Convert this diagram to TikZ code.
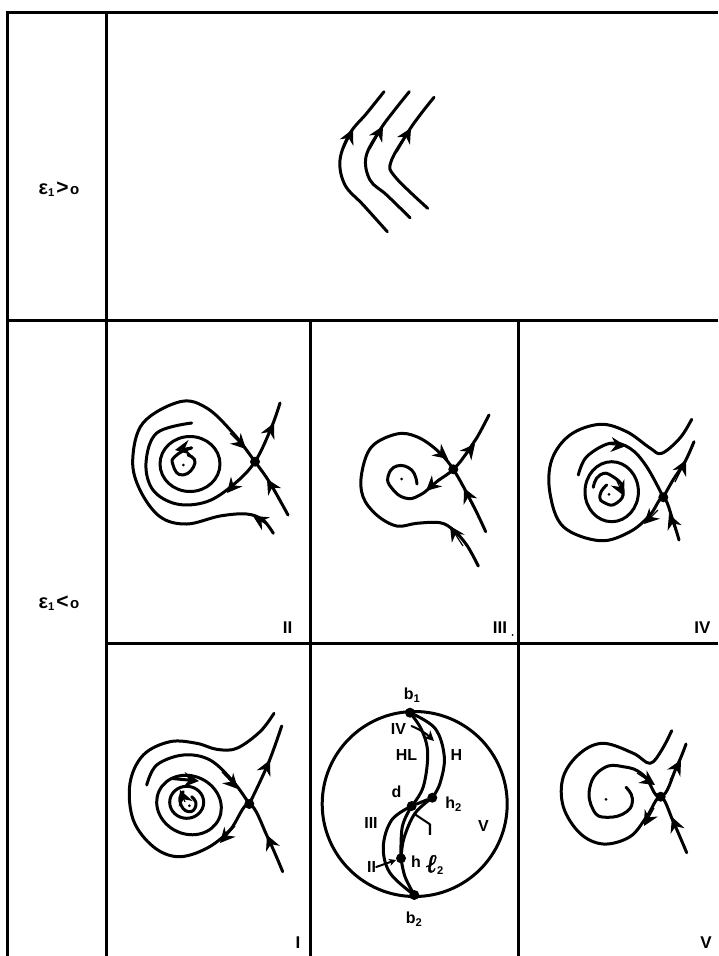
\documentclass[tikz,border=0pt]{standalone}
\usepackage{fontspec}
\setmainfont{Liberation Sans}
\newfontfamily\ellfont[FakeBold=1.5]{Liberation Serif}
\usetikzlibrary{arrows.meta}
\newcommand{\epslabel}[1]{{\fontsize{20}{20}\selectfont ε}$_{\mathbf{1}}$\kern1.5pt{\fontsize{21}{21}\selectfont #1}\kern1.5pt{\fontsize{15}{15}\selectfont o}}
\tikzset{
    rule/.style={line width=3pt},
    orbit/.style={line width=3pt, line cap=round, line join=round},
    flowtip/.style={line width=1.2pt, -{Stealth[length=15pt, width=15pt, inset=5pt]}},
    leader/.style={line width=2pt, line cap=round},
    saddle/.style={circle, fill=black, inner sep=0pt, minimum size=10pt},
    spot/.style={circle, fill=black, inner sep=0pt, minimum size=3pt},
    branch/.style={circle, fill=black, inner sep=0pt, minimum size=10pt},
    tag/.style={font=\bfseries\fontsize{17}{19}\selectfont, inner sep=0pt},
    smalltag/.style={font=\bfseries\fontsize{16}{18}\selectfont, inner sep=0pt}
}
\begin{document}
\begin{tikzpicture}[x=1pt, y=-1pt]
    \useasboundingbox (0,0) rectangle (718,956);

    % --- TABLE RULES ---
    \draw[rule] (718,12) -- (7,12) -- (7,956);
    \draw[rule] (106,12) -- (106,956);
    \draw[rule] (7,320) -- (718,320);
    \draw[rule] (106,643) -- (718,643);
    \draw[rule] (310,320) -- (310,956);
    \draw[rule] (518.5,320) -- (518.5,956);

    \node[smalltag] (epspos) at (59,189) {\epslabel{>}};
    \node[smalltag] (epsneg) at (59,603) {\epslabel{<}};

    % --- TOP PANEL ---
    \begin{scope}
        \draw[orbit] plot[smooth, tension=0.6] coordinates {(384,91.7) (366.7,113.3) (350,133.3) (340,160) (345,185) (363.3,205) (387.3,231.7)};
        \draw[orbit] plot[smooth, tension=0.6] coordinates {(409.3,91.7) (393.3,111.7) (380,130) (366,156.7) (370,180) (386.7,195) (410,217.7)};
        \draw[orbit] plot[smooth, tension=0.6] coordinates {(434,97.3) (420,115) (408.3,131.7) (391,161.7) (395,176.7) (427.7,208.3)};
        \draw[flowtip] (342,152) -- (353,129);
        \draw[flowtip] (370,149) -- (383,126);
        \draw[flowtip] (397,152) -- (411,128);
    \end{scope}

    % --- PANEL II ---
    \begin{scope}
        \node[saddle] (sadII) at (255,461.7) {};
        \node[spot] (focII) at (183.3,465) {};
        \draw[orbit] plot[smooth, tension=0.6] coordinates {(273.3,533.3) (263,520) (246.7,514) (220,516) (186.7,524) (160,516.7) (140,490) (132.7,460) (143,423) (180,401.7) (206.7,408) (233,433) (sadII) (270,483) (288,515)};
        \draw[orbit] plot[smooth, tension=0.6] coordinates {(280,403) (271.7,426.7) (sadII) (233,485) (206.7,501.7) (176.7,504) (153,490) (146,463) (156.7,433) (191.7,423)};
        \draw[orbit] (190,464) ellipse (30 and 27.5);
        \draw[orbit] plot[smooth, tension=1] coordinates {(191.7,448) (176.7,455) (173,465) (183,475) (195,463) (188,455)};
        \draw[flowtip] (230,433) -- (246,449);
        \draw[flowtip] (263,446) -- (274,423);
        \draw[flowtip] (238,480) -- (227,493);
        \draw[flowtip] (280,501) -- (267,479);
        \draw[flowtip] (268,525) -- (253,516);
        \draw[flowtip] (192,447) -- (175,450);
        \node[tag] (labII) at (287.5,628) {II};
    \end{scope}

    % --- PANEL III ---
    \begin{scope}
        \node[saddle] (sadIII) at (453.3,469.3) {};
        \node[spot] (focIII) at (401.7,479) {};
        \draw[orbit] plot[smooth, tension=0.6] coordinates {(478.3,566) (466.7,545) (453.3,530) (440,522.7) (416.7,523.3) (396.7,526) (376.7,515) (363,496.7) (361.7,473.3) (371.7,446.7) (396.7,434) (416.7,436.7) (436.7,450) (sadIII) (473,505) (485.7,531.7)};
        \draw[orbit] plot[smooth, tension=0.8] coordinates {(489,415) (476.7,438) (466.7,453) (sadIII) (436.7,481.7) (420,495) (405,498) (391.7,488) (388,476.7) (396.7,466) (411.7,470) (417,484)};
        \draw[flowtip] (433,447) -- (448,459);
        \draw[flowtip] (461,461) -- (475,444);
        \draw[flowtip] (439,479) -- (426,491);
        \draw[flowtip] (473,507) -- (464,488);
        \draw[flowtip] (463,546) -- (450,526);
        \node[tag] (labIII) at (500,628) {III};
        \node[spot, minimum size=2pt] (labdot) at (512.7,635) {};
    \end{scope}

    % --- PANEL IV ---
    \begin{scope}
        \node[saddle] (sadIV) at (663.3,497.3) {};
        \node[spot] (focIV) at (609,494.3) {};
        \draw[orbit] plot[smooth, tension=0.6] coordinates {(691.7,419.3) (680,438) (661.7,453.3) (650,448) (626.7,431.7) (600,424.3) (570,435) (551.7,460) (550,493.3) (563.3,526.7) (600,540.7) (630,531.7) (650,515) (sadIV) (673.3,521.7) (679,540)};
        \draw[orbit] plot[smooth, tension=0.6] coordinates {(694,441.7) (685,461.7) (673,480) (sadIV)};
        \draw[orbit] plot[smooth, tension=0.6] coordinates {(578.3,475) (586.7,456.7) (610,443.3) (630,448.3) (646.7,466.7) (sadIV)};
        \draw[orbit] (611.7,491.7) ellipse (26.7 and 30);
        \draw[orbit] plot[smooth, tension=1] coordinates {(593.3,487.3) (600,475) (613,476.7) (623,490) (616.7,503) (605,503) (600,495) (606.7,485)};
        \draw[flowtip] (606,444) -- (626,446);
        \draw[flowtip] (675,482) -- (686,460);
        \draw[flowtip] (658,510) -- (644,524);
        \draw[flowtip] (677,534) -- (669,514);
        \draw[flowtip] (616,479) -- (624,496);
        \node[tag] (labIV) at (702.5,628) {IV};
    \end{scope}

    % --- PANEL I ---
    \begin{scope}
        \node[saddle] (sadI) at (249.3,804) {};
        \node[spot] (focI) at (189.3,805.7) {};
        \draw[orbit] plot[smooth, tension=0.6] coordinates {(274,713.3) (260,731.7) (236.7,748.3) (216.7,749.3) (196.7,743.3) (170,741.7) (143.3,755) (130,783.3) (133.3,820) (153.3,846.7) (178.3,856.7) (206.7,848.3) (230,830) (sadI) (268,838) (282.7,871.7)};
        \draw[orbit] plot[smooth, tension=0.6] coordinates {(281.7,726) (268.3,763.3) (sadI)};
        \draw[orbit] plot[smooth, tension=0.6] coordinates {(146.7,785) (156.7,765) (183.3,755) (210,760) (233.3,781.7) (sadI)};
        \draw[orbit] (189,805) ellipse [x radius=33, y radius=29, rotate=-25];
        \draw[orbit] (186.7,802.3) ellipse (17 and 16);
        \draw[orbit] plot[smooth, tension=1] coordinates {(183.3,791.7) (180,801.7) (188.3,811.7) (196,805) (191.7,796.7)};
        \draw[flowtip, line width=3pt] (172,778.5) -- (199,781);
        \draw[flowtip] (222,772) -- (238,789);
        \draw[flowtip] (260,781) -- (270,760);
        \draw[flowtip] (235,826) -- (220,843);
        \draw[flowtip] (276,856) -- (267,835);
        \draw[flowtip] (185,802) -- (180,790);
        \node[tag] (labI) at (298,943) {I};
    \end{scope}

    % --- MIDDLE PANEL: DISC ---
    \begin{scope}
        \node[branch] (bone) at (410,712.7) {};
        \node[branch] (btwo) at (414.3,895) {};
        \node[branch] (dpt) at (411.7,806) {};
        \node[branch] (htwo) at (432.3,797.7) {};
        \node[branch] (hpt) at (401,858.3) {};
        \draw[orbit] (414.7,804) circle (92.5);
        \draw[orbit] plot[smooth, tension=0.6] coordinates {(bone) (435,728.3) (444.3,756.7) (440,783.3) (htwo)};
        \draw[orbit] plot[smooth, tension=0.6] coordinates {(bone) (421.7,730) (427.7,753.3) (423.3,786.7) (dpt)};
        \draw[orbit] (dpt) -- (htwo);
        \draw[orbit] plot[smooth, tension=0.6] coordinates {(htwo) (415,813.3) (404,838) (hpt)};
        \draw[orbit] plot[smooth, tension=0.6] coordinates {(dpt) (402.3,826.7) (hpt)};
        \draw[orbit] plot[smooth, tension=0.6] coordinates {(dpt) (391.7,820) (383.3,846.7) (390,873) (btwo)};
        \draw[orbit] plot[smooth, tension=0.6] coordinates {(hpt) (405,876.7) (btwo)};

        \node[smalltag] (lbone) at (412,695) {b$_{\mathbf{1}}$};
        \node[smalltag] (lbtwo) at (414,919) {b$_{\mathbf{2}}$};
        \node[smalltag] (lIV) at (398.5,729) {IV};
        \node[smalltag] (lHL) at (406.5,755) {HL};
        \node[smalltag] (lH) at (456.5,755) {H};
        \node[smalltag] (ld) at (396.5,791.5) {d};
        \node[smalltag] (lhtwo) at (453.5,804) {h$_{\mathbf{2}}$};
        \node[smalltag] (lIII) at (371,822.5) {III};
        \node[smalltag] (lI) at (430,830) {I};
        \node[smalltag] (lV) at (483.5,826) {V};
        \node[smalltag] (lII) at (371.5,867) {II};
        \node[smalltag] (lh) at (416,862) {h};
        \node[smalltag] (lelltwo) at (435,865) {{\ellfont\itshape\fontsize{26}{26}\selectfont ℓ}$_{\mathbf{2}}$};

        \draw[leader, -{Stealth[length=10pt, width=10pt, inset=3pt]}] (411.5,726) to[bend left=10] (434,741);
        \draw[leader] (lI.north) -- (414.5,814);
        \draw[leader, -{Stealth[length=7pt, width=7pt, inset=2pt]}] (lII.east) -- (hpt);
    \end{scope}

    % --- PANEL V ---
    \begin{scope}
        \node[saddle] (sadV) at (660.7,796.7) {};
        \node[spot] (focV) at (606,799.3) {};
        \draw[orbit] plot[smooth, tension=0.6] coordinates {(671.7,730.7) (661.7,750) (650,763.3) (633.3,753.3) (603.3,743.3) (580,753.3) (563.3,776.7) (563.3,806.7) (580,833.3) (603.3,844) (630,836.7) (646.7,816.7) (sadV) (673.3,821.7) (686.7,852.7)};
        \draw[orbit] plot[smooth, tension=0.8] coordinates {(686,744) (676.7,766.7) (sadV) (643.3,775) (623.3,766.7) (603.3,768.3) (590,786.7) (593.3,810) (606.7,817.3) (626.7,811.7) (632.3,798.3) (626,787.3)};
        \draw[flowtip] (637,773) -- (655,785);
        \draw[flowtip] (670,780) -- (681,760);
        \draw[flowtip] (654,808) -- (644,826);
        \draw[flowtip] (680,837) -- (672,817);
        \node[tag] (labV) at (706,943) {V};
    \end{scope}
\end{tikzpicture}
\end{document}
